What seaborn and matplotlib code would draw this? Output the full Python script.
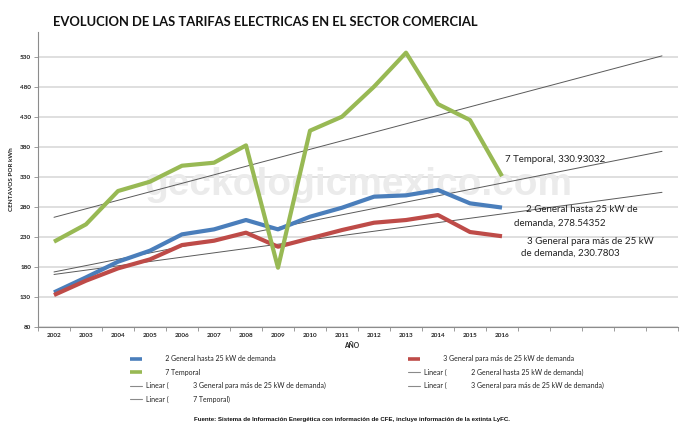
import numpy as np
import pandas as pd
import matplotlib
matplotlib.use("Agg")
import matplotlib.pyplot as plt
from matplotlib.lines import Line2D
from matplotlib import font_manager
import seaborn as sns

# ---------------- data ----------------
years = [2002, 2003, 2004, 2005, 2006, 2007, 2008, 2009, 2010, 2011, 2012, 2013, 2014, 2015, 2016]
forecast_years = [2017, 2018, 2019, 2020, 2021]
tarifa2 = [137.2, 162.2, 188.3, 206.7, 233.9, 242.2, 257.8, 242.2, 263.3, 278.3, 296.7, 298.9, 307.8, 285.6, 278.54352]
tarifa3 = [132.8, 156.7, 177.2, 192.2, 216.1, 223.3, 236.7, 213.3, 227.2, 241.1, 253.3, 257.8, 266.1, 237.8, 230.7803]
tarifa7 = [221.7, 250.6, 306.1, 321.7, 348.3, 353.3, 382.2, 178.3, 406.7, 430.0, 480.0, 536.7, 451.0, 424.4, 330.93032]
series_names = ["2 General hasta 25 kW de demanda",
                "3 General para más de 25 kW de demanda",
                "7 Temporal"]
yticks = [80, 130, 180, 230, 280, 330, 380, 430, 480, 530]

colors = {"2 General hasta 25 kW de demanda": "#4a7ebb",
          "3 General para más de 25 kW de demanda": "#be4b48",
          "7 Temporal": "#98b954"}

# long frame
idx = list(range(len(years)))
df = pd.DataFrame({
    "idx": idx * 3,
    "valor": tarifa2 + tarifa3 + tarifa7,
    "serie": [series_names[0]] * len(years) + [series_names[1]] * len(years) + [series_names[2]] * len(years),
})

# linear trend lines (forward forecast of 5 periods)
n_total = len(years) + len(forecast_years)
trend_rows = []
for name, vals in zip(series_names, [tarifa2, tarifa3, tarifa7]):
    m, b = np.polyfit(idx, vals, 1)
    for i in range(n_total):
        trend_rows.append({"idx": i, "valor": m * i + b, "serie": name})
tdf = pd.DataFrame(trend_rows)

# ---------------- figure ----------------
sns.set_theme(style="white")
plt.rcParams["font.family"] = ["Lato", "DejaVu Sans"]

installed = {f.name for f in font_manager.fontManager.ttflist}
title_family = ["Liberation Sans Narrow"] if "Liberation Sans Narrow" in installed else ["Lato"]
title_size = 11.2 if title_family[0] == "Liberation Sans Narrow" else 9.4

fig = plt.figure(figsize=(7, 4.41), dpi=100)
ax = fig.add_axes([38 / 700, 1 - 326.7 / 441, 640 / 700, (326.7 - 32) / 441])

ax.set_xlim(-0.5, n_total - 0.5)
ax.set_ylim(80, 80 + (326.7 - 32) / 30 * 50)

ax.set_yticks(yticks)
ax.yaxis.grid(True, color="#d9d9d9", lw=1.2)
ax.set_axisbelow(True)

# watermark
ax.text(358 / 700, 1 - 195 / 441, "geckologicmexico.com", transform=fig.transFigure,
        ha="center", va="baseline", fontsize=28, fontweight="bold",
        family="Liberation Sans", color="#ebebeb", zorder=1)

# trend lines
sns.lineplot(data=tdf, x="idx", y="valor", units="serie", estimator=None,
             color="#5a5a5a", lw=0.7, ax=ax, legend=False, zorder=2)
# series
sns.lineplot(data=df, x="idx", y="valor", hue="serie", palette=colors,
             hue_order=series_names, lw=3, ax=ax, legend=False, zorder=3,
             solid_capstyle="butt")

# axes styling
for s in ["top", "right"]:
    ax.spines[s].set_visible(False)
for s in ["left", "bottom"]:
    ax.spines[s].set_color("#8c8c8c")
    ax.spines[s].set_linewidth(0.8)

ax.set_xticks(idx)
ax.set_xticklabels([str(y) for y in years])
ax.set_xticks(np.arange(-0.5, n_total, 1.0), minor=True)
ax.tick_params(axis="x", which="major", length=0, pad=4.5, labelsize=4.6, colors="#222222")
ax.tick_params(axis="x", which="minor", length=3, width=0.6, color="#8c8c8c", direction="out", bottom=True)
ax.tick_params(axis="y", which="major", length=3, width=0.6, color="#8c8c8c", direction="out",
               pad=2, labelsize=4.6, left=True, labelcolor="#222222")
for lab in ax.get_xticklabels() + ax.get_yticklabels():
    lab.set_fontweight("bold")

ax.set_xlabel("AÑO", fontsize=4.8, fontweight="bold", color="#222222")
ax.xaxis.set_label_coords(0.49, -0.052)
ax.set_ylabel("CENTAVOS POR kWh", fontsize=4.6, fontweight="bold", color="#222222")
ax.yaxis.set_label_coords(-0.0375, 0.5)

# data labels
lab_kw = dict(fontsize=7, color="#222222", ha="left", va="center", zorder=4)
ax.text(14.08, 359.5, f"7 Temporal, {tarifa7[-1]}", **lab_kw)
ax.text(14.74, 274.5, "2 General hasta 25 kW de", **lab_kw)
ax.text(14.39, 252.8, f"demanda, {tarifa2[-1]}", **lab_kw)
ax.text(14.77, 222.8, "3 General para más de 25 kW", **lab_kw)
ax.text(14.58, 202.8, f"de demanda, {tarifa3[-1]}", **lab_kw)

# title
fig.text(265 / 700, 1 - 22 / 441, "EVOLUCION DE LAS TARIFAS ELECTRICAS EN EL SECTOR COMERCIAL",
         ha="center", va="center", fontsize=title_size, fontweight="bold", color="#111111",
         family=title_family + ["DejaVu Sans"])

# legends (two columns, row-wise order)
pad_s = " " * 11
lin_s = " " * 14


def series_handle(name):
    return Line2D([], [], color=colors[name], lw=2.6, solid_capstyle="butt")


def trend_handle():
    return Line2D([], [], color="#8a8a8a", lw=0.8)


leg_kw = dict(frameon=False, fontsize=5, handlelength=1.7, handletextpad=0.5,
              labelspacing=0.9, borderpad=0, loc="upper left", labelcolor="#222222")
left_handles = [series_handle(series_names[0]), series_handle(series_names[2]), trend_handle(), trend_handle()]
left_labels = [pad_s + series_names[0], pad_s + series_names[2],
               "Linear (" + lin_s + series_names[1] + ")", "Linear (" + lin_s + series_names[2] + ")"]
leg1 = fig.legend(left_handles, left_labels, bbox_to_anchor=(127 / 700, 1 - 352 / 441), **leg_kw)
right_handles = [series_handle(series_names[1]), trend_handle(), trend_handle()]
right_labels = [pad_s + series_names[1],
                "Linear (" + lin_s + series_names[0] + ")", "Linear (" + lin_s + series_names[1] + ")"]
leg2 = fig.legend(right_handles, right_labels, bbox_to_anchor=(405 / 700, 1 - 352 / 441), **leg_kw)

# source
fig.text(352 / 700, 1 - 420 / 441,
         "Fuente: Sistema de Información Energética con información de CFE, incluye información de la extinta LyFC.",
         ha="center", va="center", fontsize=4.4, fontweight="bold", family="Liberation Sans", color="#111111")

fig.savefig("out.png", dpi=100)
